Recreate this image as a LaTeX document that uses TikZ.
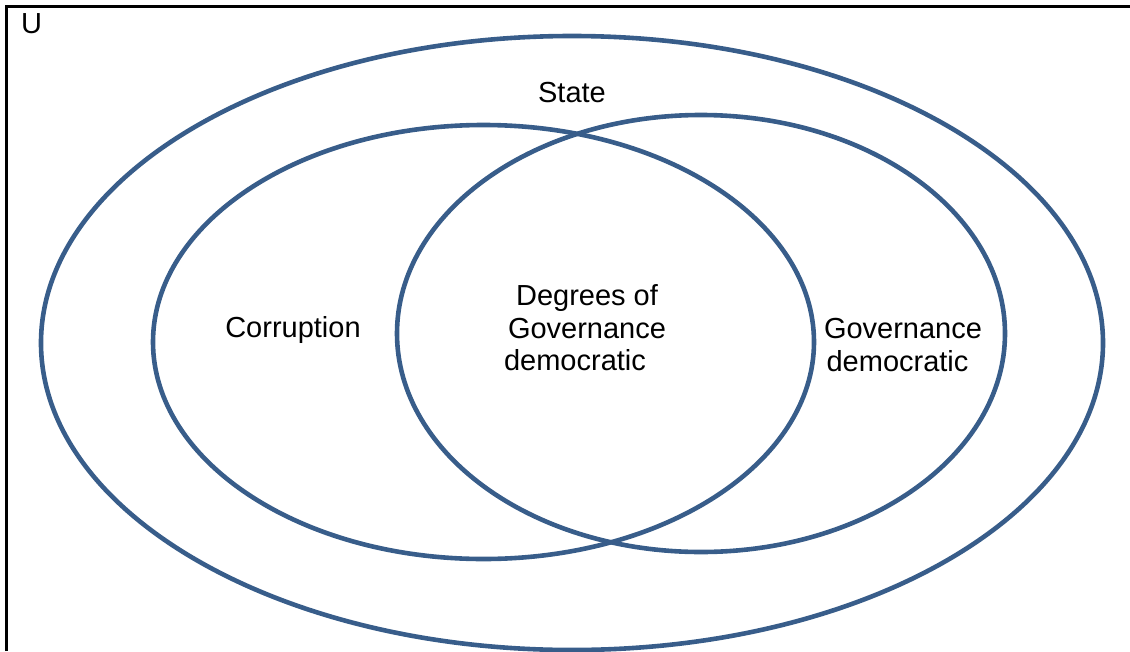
\documentclass[tikz,border=0pt]{standalone}
\usepackage{fontspec}
\setmainfont{Liberation Sans}
\definecolor{setblue}{RGB}{56,93,138}
\begin{document}
\begin{tikzpicture}[x=1pt,y=-1pt,
  setline/.style={draw=setblue,line width=4.6pt},
  lbl/.style={font=\fontsize{29}{32.5}\selectfont,align=center,inner sep=0pt}]
\useasboundingbox (0,0) rectangle (1130,651);
\draw[line width=2.6pt,black] (6.5,651) -- (6.5,6.5) -- (1130,6.5);
\draw[setline] (572,343) ellipse [x radius=531,y radius=307];
\draw[setline] (483.5,342) ellipse [x radius=330.5,y radius=217];
\draw[setline] (701,333.5) ellipse [x radius=304,y radius=218.5];
\node[lbl,anchor=north west] (u) at (21,13) {U};
\node[lbl] (state) at (572,93) {State};
\node[lbl] (corr) at (293,330) {Corruption};
\node[lbl] (deg) at (587,328) {Degrees of\\Governance\\democratic\hspace*{24pt}};
\node[lbl] (gov) at (903,345) {Governance\\democratic\hspace*{11pt}};
\end{tikzpicture}
\end{document}
